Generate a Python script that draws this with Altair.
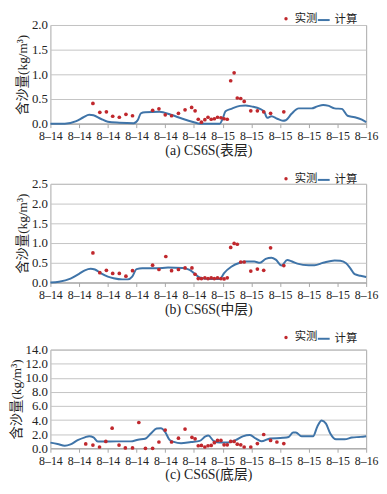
import json
import altair as alt
import pandas as pd

# ---------------- data ----------------
tick_labels = ["8-14", "8-14", "8-14", "8-14", "8-14", "8-14",
               "8-15", "8-15", "8-15", "8-15", "8-15", "8-16"]
tick_labels = [t.replace("-", "\u2013") for t in tick_labels]

# (a) surface layer
a_obs_x = [1.48, 1.72, 1.95, 2.17, 2.40, 2.63, 2.86, 3.56, 3.78, 4.00, 4.22, 4.46, 4.69, 4.92, 5.04,
           5.15, 5.26, 5.38, 5.49, 5.60, 5.71, 5.82, 5.94, 6.05, 6.16, 6.28, 6.40, 6.51, 6.63, 6.75,
           6.98, 7.21, 7.43, 7.67, 8.13]
a_obs_y = [0.41, 0.23, 0.24, 0.15, 0.13, 0.19, 0.16, 0.27, 0.30, 0.18, 0.16, 0.21, 0.28, 0.33, 0.26,
           0.09, 0.03, 0.08, 0.13, 0.09, 0.10, 0.13, 0.12, 0.10, 0.09, 0.87, 1.03, 0.52, 0.51, 0.45,
           0.26, 0.26, 0.24, 0.21, 0.24]
a_calc_x = [0, 0.5, 0.9, 1.15, 1.35, 1.5, 1.75, 2.0, 2.4, 2.9, 3.05, 3.15, 3.3, 3.8, 4.2, 4.6, 5.0,
            5.2, 5.9, 6.0, 6.1, 6.3, 6.6, 6.8, 7.0, 7.3, 7.45, 7.55, 7.7, 7.9, 8.1, 8.2, 8.4, 8.65,
            9.1, 9.3, 9.5, 9.7, 9.9, 10.15, 10.35, 10.6, 10.85, 11.0]
a_calc_y = [0.0, 0.0, 0.05, 0.13, 0.18, 0.17, 0.10, 0.04, 0.02, 0.01, 0.08, 0.21, 0.23, 0.24, 0.18,
            0.10, 0.03, 0.0, 0.0, 0.10, 0.25, 0.30, 0.36, 0.37, 0.35, 0.30, 0.24, 0.12, 0.15, 0.10,
            0.06, 0.07, 0.20, 0.31, 0.31, 0.35, 0.38, 0.36, 0.31, 0.30, 0.16, 0.13, 0.08, 0.03]

# (b) middle layer
b_obs_x = [1.48, 1.72, 1.95, 2.17, 2.40, 2.63, 2.86, 3.56, 3.78, 4.02, 4.22, 4.46, 4.69, 4.93, 5.04,
           5.15, 5.26, 5.38, 5.49, 5.60, 5.71, 5.82, 5.94, 6.05, 6.16, 6.28, 6.40, 6.51, 6.63, 6.75,
           6.98, 7.21, 7.43, 7.67, 8.13]
b_obs_y = [0.75, 0.25, 0.31, 0.23, 0.23, 0.16, 0.30, 0.44, 0.33, 0.66, 0.30, 0.33, 0.37, 0.37, 0.21,
           0.10, 0.10, 0.12, 0.10, 0.12, 0.10, 0.12, 0.10, 0.09, 0.12, 0.89, 0.99, 0.97, 0.52, 0.52,
           0.29, 0.34, 0.31, 0.88, 0.43]
b_calc_x = [0, 0.3, 0.7, 1.0, 1.2, 1.4, 1.55, 1.75, 2.0, 2.2, 2.5, 2.7, 2.85, 3.0, 3.2, 3.7, 4.1,
            4.6, 4.85, 5.0, 5.2, 5.5, 5.9, 6.05, 6.3, 6.6, 6.8, 7.1, 7.3, 7.5, 7.7, 7.85, 8.05,
            8.25, 8.4, 8.6, 9.0, 9.2, 9.5, 9.9, 10.1, 10.3, 10.45, 10.6, 10.8, 11.0]
b_calc_y = [0.0, 0.02, 0.10, 0.22, 0.31, 0.35, 0.33, 0.24, 0.15, 0.11, 0.08, 0.08, 0.15, 0.34, 0.36,
            0.36, 0.38, 0.37, 0.32, 0.24, 0.13, 0.09, 0.09, 0.24, 0.40, 0.50, 0.53, 0.53, 0.50, 0.60,
            0.63, 0.58, 0.43, 0.57, 0.54, 0.48, 0.44, 0.44, 0.50, 0.56, 0.55, 0.49, 0.36, 0.21, 0.17,
            0.14]

# (c) bottom layer
c_obs_x = [1.23, 1.48, 1.71, 1.93, 2.15, 2.39, 2.61, 2.86, 3.08, 3.31, 3.56, 3.78, 4.00, 4.22, 4.46,
           4.69, 4.93, 5.04, 5.15, 5.26, 5.38, 5.49, 5.60, 5.71, 5.82, 5.94, 6.05, 6.16, 6.28, 6.40,
           6.51, 6.63, 6.75, 6.98, 7.21, 7.43, 7.67, 7.89, 8.13]
c_obs_y = [0.62, 0.45, 0.18, 0.98, 2.85, 0.45, 0.05, 0.05, 3.66, 0.0, 0.0, 0.89, 2.59, 0.89, 1.43,
           2.72, 1.56, 1.34, 0.36, 0.40, 0.18, 0.36, 0.40, 0.80, 1.11, 1.11, 0.49, 0.49, 0.98, 0.98,
           0.58, 0.49, 0.18, 0.18, 0.67, 1.96, 1.11, 0.89, 0.67]
c_calc_x = [0, 0.25, 0.5, 0.7, 0.95, 1.2, 1.35, 1.5, 1.65, 1.85, 2.3, 2.8, 3.05, 3.3, 3.5, 3.7, 3.85,
            4.0, 4.15, 4.3, 4.55, 4.9, 5.2, 5.4, 5.5, 5.7, 5.9, 6.2, 6.45, 6.7, 6.95, 7.15, 7.35,
            7.65, 8.1, 8.3, 8.45, 8.55, 8.75, 9.15, 9.3, 9.45, 9.6, 9.75, 9.95, 10.25, 10.5, 10.8,
            11.0]
c_calc_y = [0.80, 0.62, 0.36, 0.55, 1.15, 1.55, 1.72, 1.55, 0.95, 0.95, 0.98, 0.98, 1.22, 1.35, 2.1,
            2.8, 2.85, 2.3, 1.20, 0.90, 0.72, 0.90, 1.05, 1.68, 1.80, 1.00, 0.82, 0.82, 1.15, 1.70,
            1.90, 1.40, 1.00, 1.40, 1.48, 1.60, 2.25, 2.25, 1.70, 1.70, 3.1, 3.95, 3.5, 2.1, 1.28,
            1.28, 1.52, 1.62, 1.72]

titles = ["(a) CS6S(表层)", "(b) CS6S(中层)", "(c) CS6S(底层)"]
y_max = [2.0, 2.5, 14.0]
y_step = [0.5, 0.5, 2.0]
legend_dy = [-12, -11, -18]

RED = "#c0282d"
BLUE = "#3f74a8"
NUM = "Liberation Serif"
SERIF = "Liberation Serif, Noto Sans CJK SC"
CJK = "Noto Sans CJK SC"

label_expr = json.dumps(tick_labels) + "[round(datum.value)]"


def panel(ox, oy, cx, cy, title, ymax, ystep, ldy):
    obs = pd.DataFrame({"t": ox, "v": oy, "s": "实测"})
    calc = pd.DataFrame({"t": cx, "v": cy, "s": "计算"})
    nticks = int(round(ymax / ystep))
    yvals = [round(i * ystep, 2) for i in range(nticks + 1)]
    x = alt.X("t:Q", scale=alt.Scale(domain=[0, 11], nice=False, zero=False),
              axis=alt.Axis(values=list(range(12)), labelExpr=label_expr, title=title,
                            grid=False, tickSize=4, labelPadding=3, titlePadding=2,
                            labelOverlap=False, labelFlush=False))
    y = alt.Y("v:Q", scale=alt.Scale(domain=[0, ymax], nice=False),
              axis=alt.Axis(values=yvals, format=".1f", title="含沙量(kg/m³)",
                            tickSize=0, labelPadding=3, titlePadding=2, domain=False,
                            labelFlush=False))
    line = alt.Chart(calc).mark_line(interpolate="monotone", strokeWidth=2).encode(
        x=x, y=y,
        stroke=alt.Stroke("s:N", scale=alt.Scale(domain=["计算"], range=[BLUE]),
                          legend=alt.Legend(orient="none", legendX=270, legendY=ldy, title=None,
                                            symbolType="stroke", symbolSize=144,
                                            symbolStrokeWidth=2, labelFont=CJK,
                                            labelFontSize=11.5, labelOffset=4, padding=0)))
    pts = alt.Chart(obs).mark_circle(size=14, opacity=1).encode(
        x=x, y=y,
        fill=alt.Fill("s:N", scale=alt.Scale(domain=["实测"], range=[RED]),
                      legend=alt.Legend(orient="none", legendX=233, legendY=ldy, title=None,
                                        symbolType="circle", symbolSize=12, labelFont=CJK,
                                        labelFontSize=11.5, labelOffset=3, padding=0)))
    return alt.layer(line, pts).properties(width=320, height=100)


panels = [
    panel(a_obs_x, a_obs_y, a_calc_x, a_calc_y, titles[0], y_max[0], y_step[0], legend_dy[0]),
    panel(b_obs_x, b_obs_y, b_calc_x, b_calc_y, titles[1], y_max[1], y_step[1], legend_dy[1]),
    panel(c_obs_x, c_obs_y, c_calc_x, c_calc_y, titles[2], y_max[2], y_step[2], legend_dy[2]),
]

chart = alt.vconcat(*panels, spacing=14).resolve_scale(
    fill="independent", stroke="independent"
).resolve_legend(fill="independent", stroke="independent").properties(
    padding={"left": 0, "top": 1, "right": 0, "bottom": 0}
).configure_view(stroke="#a8a8a8", strokeWidth=1).configure_axis(
    labelFont=NUM, titleFont=SERIF, labelFontSize=13, titleFontSize=13.5,
    labelColor="#222222", titleColor="#222222", titleFontWeight="normal",
    gridColor="#c4c4c4", gridWidth=1, domainColor="#a8a8a8", tickColor="#a8a8a8"
).configure_axisX(titleFontSize=14, labelFontSize=12).configure_legend(
    labelColor="#222222"
)

chart.save("out.html", embed_options={"renderer": "svg", "actions": False})
